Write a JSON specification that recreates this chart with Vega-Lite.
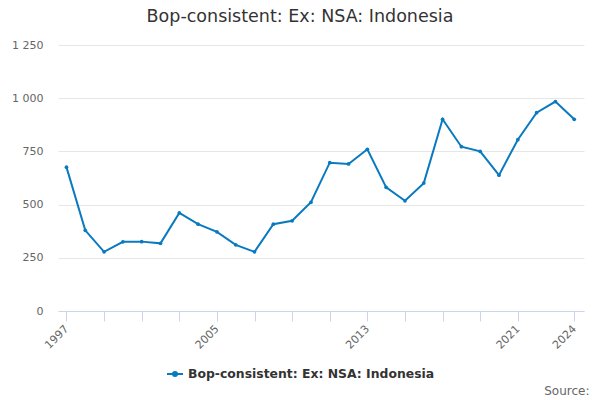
{
  "$schema": "https://vega.github.io/schema/vega-lite/v6.json",
  "width": 526,
  "height": 266,
  "autosize": {"type": "none"},
  "padding": {"left": 58, "top": 45, "right": 16, "bottom": 89},
  "background": "#ffffff",
  "view": {"stroke": null},
  "title": {
    "text": "Bop-consistent: Ex: NSA: Indonesia",
    "anchor": "middle",
    "dx": -21,
    "offset": 14,
    "font": "DejaVu Sans",
    "fontSize": 17.5,
    "fontWeight": "normal",
    "color": "#333333"
  },
  "data": {
    "values": [
      {"year": 1997, "value": 676, "series": "Bop-consistent: Ex: NSA: Indonesia"},
      {"year": 1998, "value": 379, "series": "Bop-consistent: Ex: NSA: Indonesia"},
      {"year": 1999, "value": 278, "series": "Bop-consistent: Ex: NSA: Indonesia"},
      {"year": 2000, "value": 325, "series": "Bop-consistent: Ex: NSA: Indonesia"},
      {"year": 2001, "value": 326, "series": "Bop-consistent: Ex: NSA: Indonesia"},
      {"year": 2002, "value": 318, "series": "Bop-consistent: Ex: NSA: Indonesia"},
      {"year": 2003, "value": 461, "series": "Bop-consistent: Ex: NSA: Indonesia"},
      {"year": 2004, "value": 408, "series": "Bop-consistent: Ex: NSA: Indonesia"},
      {"year": 2005, "value": 372, "series": "Bop-consistent: Ex: NSA: Indonesia"},
      {"year": 2006, "value": 311, "series": "Bop-consistent: Ex: NSA: Indonesia"},
      {"year": 2007, "value": 278, "series": "Bop-consistent: Ex: NSA: Indonesia"},
      {"year": 2008, "value": 408, "series": "Bop-consistent: Ex: NSA: Indonesia"},
      {"year": 2009, "value": 424, "series": "Bop-consistent: Ex: NSA: Indonesia"},
      {"year": 2010, "value": 511, "series": "Bop-consistent: Ex: NSA: Indonesia"},
      {"year": 2011, "value": 697, "series": "Bop-consistent: Ex: NSA: Indonesia"},
      {"year": 2012, "value": 691, "series": "Bop-consistent: Ex: NSA: Indonesia"},
      {"year": 2013, "value": 760, "series": "Bop-consistent: Ex: NSA: Indonesia"},
      {"year": 2014, "value": 581, "series": "Bop-consistent: Ex: NSA: Indonesia"},
      {"year": 2015, "value": 518, "series": "Bop-consistent: Ex: NSA: Indonesia"},
      {"year": 2016, "value": 601, "series": "Bop-consistent: Ex: NSA: Indonesia"},
      {"year": 2017, "value": 901, "series": "Bop-consistent: Ex: NSA: Indonesia"},
      {"year": 2018, "value": 772, "series": "Bop-consistent: Ex: NSA: Indonesia"},
      {"year": 2019, "value": 750, "series": "Bop-consistent: Ex: NSA: Indonesia"},
      {"year": 2020, "value": 638, "series": "Bop-consistent: Ex: NSA: Indonesia"},
      {"year": 2021, "value": 805, "series": "Bop-consistent: Ex: NSA: Indonesia"},
      {"year": 2022, "value": 932, "series": "Bop-consistent: Ex: NSA: Indonesia"},
      {"year": 2023, "value": 984, "series": "Bop-consistent: Ex: NSA: Indonesia"},
      {"year": 2024, "value": 901, "series": "Bop-consistent: Ex: NSA: Indonesia"}
    ]
  },
  "mark": {
    "type": "line",
    "strokeWidth": 2,
    "point": {"filled": true, "size": 14},
    "clip": false
  },
  "encoding": {
    "x": {
      "field": "year",
      "type": "quantitative",
      "scale": {"domain": [1996.55, 2024.52], "nice": false, "zero": false},
      "axis": {
        "values": [1997, 1999, 2001, 2003, 2005, 2007, 2009, 2011, 2013, 2015, 2017, 2019, 2021, 2024],
        "labelExpr": "indexof([1997, 2005, 2013, 2021, 2024], datum.value) >= 0 ? '' + datum.value : ''",
        "grid": false,
        "domainColor": "#ccd6eb",
        "tickColor": "#ccd6eb",
        "tickSize": 10,
        "labelAngle": -45,
        "labelAlign": "right",
        "labelBaseline": "middle",
        "labelPadding": 6,
        "labelFont": "DejaVu Sans",
        "labelFontSize": 11,
        "labelColor": "#666666",
        "labelOverlap": false,
        "labelFlush": false,
        "title": "Source:",
        "titleFont": "DejaVu Sans",
        "titleFontSize": 12,
        "titleFontWeight": "normal",
        "titleColor": "#666666",
        "titleAnchor": "end",
        "titleAlign": "right",
        "titleBaseline": "alphabetic",
        "titleX": 531,
        "titleY": 83
      }
    },
    "y": {
      "field": "value",
      "type": "quantitative",
      "scale": {"domain": [0, 1250], "nice": false},
      "axis": {
        "values": [0, 250, 500, 750, 1000, 1250],
        "labelExpr": "replace(format(datum.value, ','), ',', ' ')",
        "domain": false,
        "ticks": false,
        "gridColor": "#e6e6e6",
        "labelFont": "DejaVu Sans",
        "labelFontSize": 11,
        "labelColor": "#666666",
        "labelPadding": 15,
        "title": null
      }
    },
    "color": {
      "field": "series",
      "type": "nominal",
      "scale": {"range": ["#0a7ac0"]},
      "legend": {
        "title": null,
        "orient": "none",
        "legendX": 108,
        "legendY": 320,
        "symbolType": "M -1 0 L 1 0 M 0.25 0 A 0.25 0.25 0 1 1 -0.25 0 A 0.25 0.25 0 1 1 0.25 0",
        "symbolSize": 256,
        "symbolStrokeWidth": 2,
        "symbolFillColor": "#0a7ac0",
        "symbolStrokeColor": "#0a7ac0",
        "labelFont": "DejaVu Sans",
        "labelFontSize": 12.4,
        "labelFontWeight": "bold",
        "labelColor": "#333333",
        "labelOffset": 4,
        "labelLimit": 0
      }
    }
  }
}
